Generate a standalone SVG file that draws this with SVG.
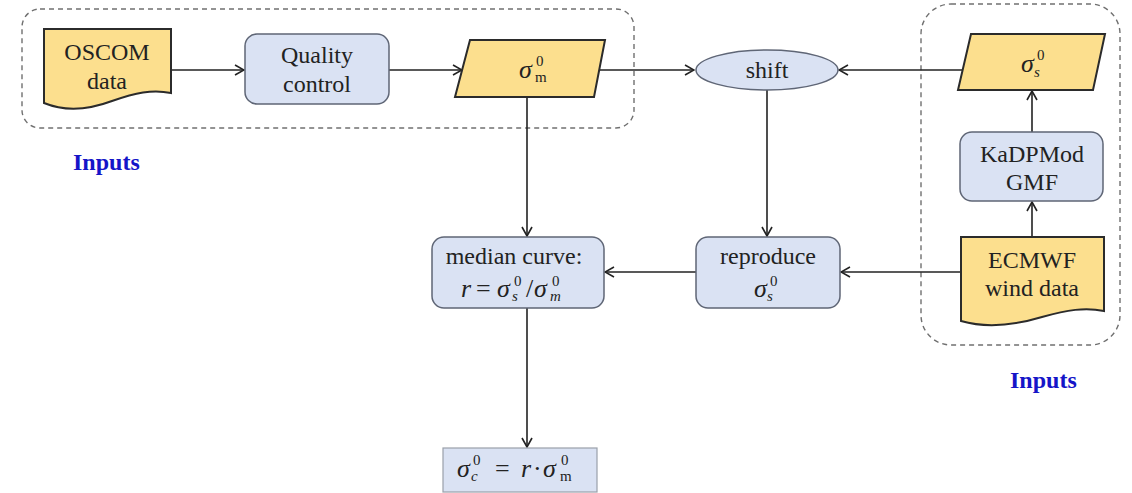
<svg xmlns="http://www.w3.org/2000/svg" width="1132" height="493" viewBox="0 0 1132 493">
<style>
.t{font-family:"Liberation Serif","Times New Roman",serif;font-size:24px;fill:#222;}
.m{font-family:"Liberation Serif","Times New Roman",serif;fill:#222;}
.b{font-size:26px}
.s{font-size:15px}
.i{font-style:italic}
.doc{fill:#FCDF8E;stroke:#2b2b2b;stroke-width:2}
.box{fill:#DAE2F3;stroke:#5f6676;stroke-width:1.5}
.dash{fill:none;stroke:#707070;stroke-width:1.4;stroke-dasharray:5 4}
.c{fill:none;stroke:#222;stroke-width:1.6}
.lbl{font-family:"Liberation Serif","Times New Roman",serif;font-size:24px;font-weight:bold;fill:#1515C8}
</style>
<defs>
<marker id="a" viewBox="0 0 12 12" refX="11" refY="6" markerWidth="12" markerHeight="12" markerUnits="userSpaceOnUse" orient="auto">
<path d="M2,1 L11,6 L2,11" fill="none" stroke="#222" stroke-width="1.6"/>
</marker>
</defs>
<g id="groups">
<rect class="dash" x="22" y="9" width="612" height="119" rx="18"/>
<rect class="dash" x="921" y="4" width="199" height="341" rx="30"/>
<text class="lbl" x="73" y="170">Inputs</text>
<text class="lbl" x="1010" y="388">Inputs</text>
</g>
<g id="connectors">
<line class="c" x1="171" y1="70" x2="244" y2="70" marker-end="url(#a)"/>
<line class="c" x1="389" y1="70" x2="462" y2="70" marker-end="url(#a)"/>
<line class="c" x1="599" y1="70" x2="694" y2="70" marker-end="url(#a)"/>
<line class="c" x1="964" y1="70" x2="839" y2="70" marker-end="url(#a)"/>
<line class="c" x1="1032" y1="132" x2="1032" y2="91" marker-end="url(#a)"/>
<line class="c" x1="1032" y1="237" x2="1032" y2="202" marker-end="url(#a)"/>
<line class="c" x1="767" y1="90" x2="767" y2="236" marker-end="url(#a)"/>
<line class="c" x1="961" y1="272" x2="841" y2="272" marker-end="url(#a)"/>
<line class="c" x1="696" y1="272" x2="605" y2="272" marker-end="url(#a)"/>
<line class="c" x1="527" y1="97" x2="527" y2="236" marker-end="url(#a)"/>
<line class="c" x1="527" y1="308" x2="527" y2="447" marker-end="url(#a)"/>
</g>
<g id="oscom">
<path class="doc" d="M44,29 H171 V93 C152,89 135,93 112,101 C88,110 66,112 44,103 Z"/>
<text class="t" x="107" y="60" text-anchor="middle">OSCOM</text>
<text class="t" x="107" y="89" text-anchor="middle">data</text>
</g>
<g id="quality">
<rect class="box" x="245" y="34" width="144" height="70" rx="12"/>
<text class="t" x="317" y="63" text-anchor="middle">Quality</text>
<text class="t" x="317" y="92" text-anchor="middle">control</text>
</g>
<g id="sigma_m">
<path class="doc" d="M470,40 H605 L594,97 H455 Z"/>
<text class="m b i" x="519" y="78">σ</text>
<text class="m s" x="536" y="66">0</text>
<text class="m s" x="535" y="82">m</text>
</g>
<g id="shift">
<ellipse class="box" cx="767" cy="70" rx="71" ry="20"/>
<text class="t" x="767" y="78" text-anchor="middle">shift</text>
</g>
<g id="sigma_s">
<path class="doc" d="M971,34 H1105 L1093,90 H958 Z"/>
<text class="m b i" x="1021" y="72">σ</text>
<text class="m s" x="1037" y="60">0</text>
<text class="m s i" x="1034" y="77">s</text>
</g>
<g id="kadpmod">
<rect class="box" x="960" y="132" width="143" height="69" rx="12"/>
<text class="t" x="1032" y="162" text-anchor="middle">KaDPMod</text>
<text class="t" x="1032" y="190" text-anchor="middle">GMF</text>
</g>
<g id="ecmwf">
<path class="doc" d="M961,237 H1104 V311 C1085,307 1067,310 1042,317 C1012,326 985,328 961,321 Z"/>
<text class="t" x="1032" y="268" text-anchor="middle">ECMWF</text>
<text class="t" x="1032" y="296" text-anchor="middle">wind data</text>
</g>
<g id="reproduce">
<rect class="box" x="696" y="237" width="144" height="71" rx="12"/>
<text class="t" x="768" y="264" text-anchor="middle">reproduce</text>
<text class="m b i" x="754" y="297">σ</text>
<text class="m s" x="770" y="286">0</text>
<text class="m s i" x="767" y="301">s</text>
</g>
<g id="median">
<rect class="box" x="432" y="237" width="172" height="71" rx="12"/>
<text class="t" x="514" y="264" text-anchor="middle">median curve:</text>
<text class="m b i" x="461" y="297">r</text>
<text class="m b" x="476" y="297">=</text>
<text class="m b i" x="497" y="297">σ</text>
<text class="m s" x="514" y="286">0</text>
<text class="m s i" x="512" y="301">s</text>
<text class="m b" x="526" y="297">/</text>
<text class="m b i" x="534" y="297">σ</text>
<text class="m s" x="552" y="286">0</text>
<text class="m s i" x="550" y="301">m</text>
</g>
<g id="result">
<rect x="443" y="448" width="154" height="44" fill="#DAE2F3" stroke="#9aa0aa" stroke-width="1.2"/>
<text class="m b i" x="457" y="477">σ</text>
<text class="m s" x="473" y="465">0</text>
<text class="m s i" x="471" y="481">c</text>
<text class="m b" x="495" y="477">=</text>
<text class="m b i" x="521" y="477">r</text>
<text class="m b" x="533" y="477">·</text>
<text class="m b i" x="543" y="477">σ</text>
<text class="m s" x="561" y="465">0</text>
<text class="m s" x="560" y="481">m</text>
</g>
</svg>
